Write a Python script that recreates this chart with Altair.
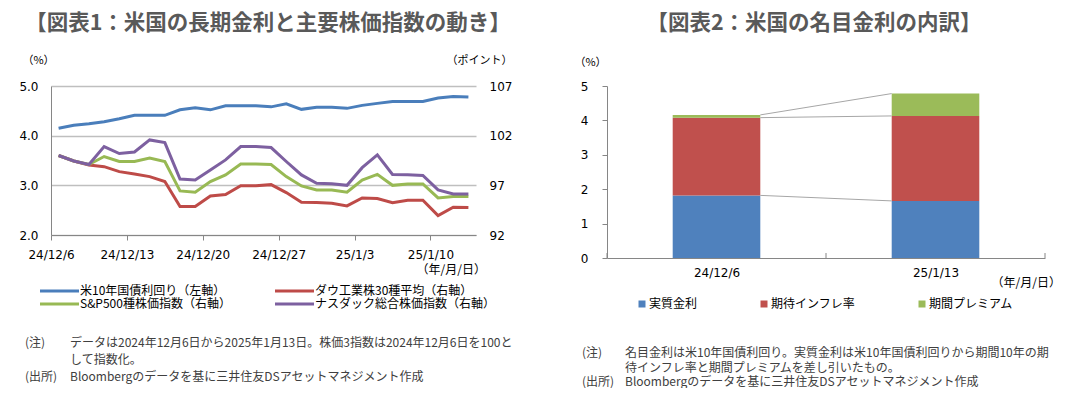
import altair as alt
import pandas as pd
from itertools import accumulate

JP = "Noto Sans CJK JP"
NUM = "DejaVu Sans"
GRAY = "#868686"
GRID = "#BFBFBF"
TITLE_COLOR = "#595959"
NOTE_COLOR = "#404040"

# ---------------- Figure 1 data ----------------
title1 = "【図表1：米国の長期金利と主要株価指数の動き】"
x_labels = ["24/12/6", "24/12/13", "24/12/20", "24/12/27", "25/1/3", "25/1/10"]
series_names = ["米10年国債利回り（左軸）", "ダウ工業株30種平均（右軸）",
                "S&P500種株価指数（右軸）", "ナスダック総合株価指数（右軸）"]
series_colors = ["#4A7EBB", "#BE4B48", "#98B954", "#7D60A0"]
us10y = [4.15, 4.21, 4.24, 4.28, 4.34, 4.41, 4.41, 4.41, 4.52, 4.56,
         4.52, 4.60, 4.60, 4.60, 4.58, 4.64, 4.53, 4.57, 4.57, 4.55,
         4.61, 4.65, 4.69, 4.69, 4.69, 4.76, 4.79, 4.78]
dow = [100.0, 99.45, 99.05, 98.88, 98.38, 98.15, 97.88, 97.38, 94.86, 94.86,
       95.93, 96.07, 96.97, 96.97, 97.07, 96.27, 95.30, 95.26, 95.20, 94.93,
       95.73, 95.67, 95.26, 95.50, 95.50, 93.95, 94.80, 94.78]
sp500 = [100.0, 99.45, 99.10, 99.90, 99.40, 99.40, 99.76, 99.40, 96.44, 96.30,
         97.38, 98.05, 99.15, 99.15, 99.10, 97.88, 96.94, 96.54, 96.54, 96.30,
         97.54, 98.10, 97.00, 97.14, 97.14, 95.73, 95.87, 95.87]
nasdaq = [100.0, 99.45, 99.10, 100.90, 100.20, 100.36, 101.57, 101.30, 97.64, 97.54,
          98.55, 99.56, 100.90, 100.90, 100.80, 99.40, 98.05, 97.20, 97.17, 97.00,
          98.78, 100.06, 98.10, 98.07, 98.00, 96.54, 96.13, 96.13]
left_ticks = [2, 3, 4, 5]
right_ticks = [92, 97, 102, 107]
notes1 = ["データは2024年12月6日から2025年1月13日。株価3指数は2024年12月6日を100と",
          "して指数化。",
          "Bloombergのデータを基に三井住友DSアセットマネジメント作成"]

# ---------------- Figure 2 data ----------------
title2 = "【図表2：米国の名目金利の内訳】"
bar_dates = ["24/12/6", "25/1/13"]
components = ["実質金利", "期待インフレ率", "期間プレミアム"]
comp_colors = ["#4F81BD", "#C0504D", "#9BBB59"]
real_rate = [1.82, 1.66]
breakeven = [2.26, 2.47]
term_premium = [0.08, 0.65]
bar_ticks = [0, 1, 2, 3, 4, 5]
notes2 = ["名目金利は米10年国債利回り。実質金利は米10年国債利回りから期間10年の期",
          "待インフレ率と期間プレミアムを差し引いたもの。",
          "Bloombergのデータを基に三井住友DSアセットマネジメント作成"]

W1, H1 = 425, 149
W2, H2 = 438, 172
BAR_HALF = 0.2


def label(text, x, y, size=12, color="#000000", align="left", weight="normal", font=JP):
    return alt.Chart(pd.DataFrame({"t": [text]})).mark_text(
        align=align, baseline="middle", font=font, fontSize=size,
        fontWeight=weight, color=color
    ).encode(text="t:N", x=alt.value(x), y=alt.value(y))


# ---------------- Left panel ----------------
n = len(us10y)
idx = list(range(n))
df_y = pd.DataFrame({"i": idx, "v": us10y, "s": series_names[0]})
df_s = pd.concat([pd.DataFrame({"i": idx, "v": vals, "s": name})
                  for name, vals in zip(series_names[1:], [dow, sp500, nasdaq])])

tick_vals = [k * 5 - 0.5 for k in range(len(x_labels))]
label_expr = "[" + ",".join(f"'{l}'" for l in x_labels) + "][round((datum.value + 0.5) / 5)]"

x1 = alt.X("i:Q", scale=alt.Scale(domain=[-0.5, n - 0.5], nice=False, zero=False),
           axis=alt.Axis(values=tick_vals, labelExpr=label_expr, title=None, grid=False,
                         tickSize=5, tickColor=GRAY, domainColor=GRAY, labelFont=NUM,
                         labelFontSize=12, labelColor="#000000", labelPadding=9,
                         labelFlush=False, labelOverlap=False))

color1 = alt.Color("s:N", scale=alt.Scale(domain=series_names, range=series_colors),
                   legend=alt.Legend(orient="none", legendX=-14, legendY=199,
                                     direction="horizontal", columns=2, title=None,
                                     symbolType="M-1,0H12", symbolSize=36,
                                     symbolStrokeWidth=3, labelFont=JP, labelFontSize=12,
                                     labelColor="#000000", labelOffset=31,
                                     columnPadding=38, rowPadding=1, padding=0,
                                     labelLimit=400))

y_left = alt.Y("v:Q", scale=alt.Scale(domain=[2, 5], nice=False, zero=False),
               axis=alt.Axis(values=left_ticks, format=".1f", grid=True, gridColor=GRID,
                             gridWidth=1.5, ticks=False, domainColor=GRAY, labelFont=NUM,
                             labelFontSize=12, labelColor="#000000", labelPadding=13,
                             title="（%）", titleAngle=0, titleX=-13, titleY=-26,
                             titleFont=JP, titleFontSize=11, titleFontWeight="normal",
                             titleAlign="center", titleBaseline="middle",
                             titleColor="#000000"))
y_right = alt.Y("v:Q", scale=alt.Scale(domain=[92, 107], nice=False, zero=False),
                axis=alt.Axis(orient="right", values=right_ticks, format="d", grid=False,
                              ticks=False, domain=False, labelFont=NUM, labelFontSize=12,
                              labelColor="#000000", labelPadding=13,
                              title="（ポイント）", titleAngle=0, titleX=3, titleY=-26,
                              titleFont=JP, titleFontSize=11, titleFontWeight="normal",
                              titleAlign="center", titleBaseline="middle",
                              titleColor="#000000"))

yield_line = alt.Chart(df_y).mark_line(strokeWidth=3).encode(x=x1, y=y_left, color=color1)
stock_lines = alt.layer(*[
    alt.Chart(df_s).transform_filter(alt.datum.s == name)
    .mark_line(strokeWidth=3).encode(x=x1, y=y_right, color=color1)
    for name in series_names[1:]
])

left = alt.layer(
    yield_line,
    stock_lines,
    label(title1, 217, -62, size=21.5, color=TITLE_COLOR, align="center", weight="bold"),
    label("（年/月/日）", 435, 184, align="right"),
    label("(注)", -26, 257, color=NOTE_COLOR),
    label(notes1[0], 19, 257, color=NOTE_COLOR),
    label(notes1[1], 19, 274, color=NOTE_COLOR),
    label("(出所)", -26, 291, color=NOTE_COLOR),
    label(notes1[2], 19, 291, color=NOTE_COLOR),
).resolve_scale(y="independent").properties(width=W1, height=H1)

# ---------------- Right panel ----------------
rows = []
for d_i, d in enumerate(bar_dates):
    for c_i, (c, vals) in enumerate(zip(components, [real_rate, breakeven, term_premium])):
        rows.append({"d": d, "pos": d_i + 0.5, "comp": c, "order": c_i, "v": vals[d_i]})
df_b = pd.DataFrame(rows)

cum = [list(accumulate(vals)) for vals in zip(real_rate, breakeven, term_premium)]
df_c = pd.DataFrame({"comp": components, "pf": 0.5, "pt": 1.5,
                     "yf": cum[0], "yt": cum[1]})

x2_scale = alt.Scale(domain=[0, len(bar_dates)], nice=False, zero=False)
label_expr2 = "[" + ",".join(f"'{l}'" for l in bar_dates) + "][floor(datum.value)]"
x2_axis = alt.Axis(values=[k + 0.5 for k in range(len(bar_dates))], labelExpr=label_expr2,
                   title=None, grid=False, ticks=False, domainColor=GRAY, labelFont=NUM,
                   labelFontSize=12, labelColor="#000000", labelPadding=9,
                   labelFlush=False)
y2_scale = alt.Scale(domain=[0, 5], nice=False, zero=True)
y2_axis = alt.Axis(values=bar_ticks, format="d", grid=False, ticks=True, tickSize=5,
                   tickColor=GRAY, domainColor=GRAY, labelFont=NUM, labelFontSize=12,
                   labelColor="#000000", labelPadding=14, labelOverlap=False,
                   title="（%）", titleAngle=0, titleX=-17, titleY=-24,
                   titleFont=JP, titleFontSize=11, titleFontWeight="normal",
                   titleAlign="center", titleBaseline="middle", titleColor="#000000")

color2 = alt.Color("comp:N", scale=alt.Scale(domain=components, range=comp_colors),
                   legend=alt.Legend(orient="none", legendX=29, legendY=212,
                                     direction="horizontal", title=None,
                                     symbolType="square", symbolSize=49,
                                     symbolStrokeWidth=0, labelFont=JP, labelFontSize=12,
                                     labelColor="#000000", labelOffset=1,
                                     columnPadding=60, padding=0))

bars = alt.Chart(df_b).transform_stack(
    stack="v", groupby=["d"], as_=["y0", "y1"], sort=[alt.SortField("order")]
).transform_calculate(
    xa=f"datum.pos - {BAR_HALF}", xb=f"datum.pos + {BAR_HALF}"
).mark_bar().encode(
    x=alt.X("xa:Q", scale=x2_scale, axis=x2_axis), x2="xb:Q",
    y=alt.Y("y0:Q", scale=y2_scale, axis=y2_axis), y2="y1:Q",
    color=color2,
)

connectors = alt.Chart(df_c).transform_calculate(
    xf=f"datum.pf + {BAR_HALF}", xt=f"datum.pt - {BAR_HALF}"
).mark_rule(color="#A6A6A6", strokeWidth=1).encode(
    x=alt.X("xf:Q", scale=x2_scale, axis=x2_axis), x2="xt:Q",
    y=alt.Y("yf:Q", scale=y2_scale, axis=y2_axis), y2="yt:Q",
)

xticks = alt.Chart(pd.DataFrame({"t": list(range(len(bar_dates) + 1))})).mark_rule(
    color=GRAY, strokeWidth=1
).encode(x=alt.X("t:Q", scale=x2_scale, axis=x2_axis), y=alt.value(H2 - 5), y2=alt.value(H2))

right = alt.layer(
    bars,
    connectors,
    xticks,
    label(title2, 207, -62, size=21.5, color=TITLE_COLOR, align="center", weight="bold"),
    label("（年/月/日）", 454, 197, align="right"),
    label("(注)", -25, 267, color=NOTE_COLOR),
    label(notes2[0], 18, 267, color=NOTE_COLOR),
    label(notes2[1], 18, 282, color=NOTE_COLOR),
    label("(出所)", -25, 296, color=NOTE_COLOR),
    label(notes2[2], 18, 296, color=NOTE_COLOR),
).properties(width=W2, height=H2)

chart = alt.hconcat(left, right, spacing=131, bounds="flush").resolve_scale(
    color="independent"
).configure_view(stroke=None).properties(
    padding={"left": 10, "top": 5, "right": 5, "bottom": 0}
)

chart.save("out.html", embed_options={"renderer": "svg", "actions": False})
